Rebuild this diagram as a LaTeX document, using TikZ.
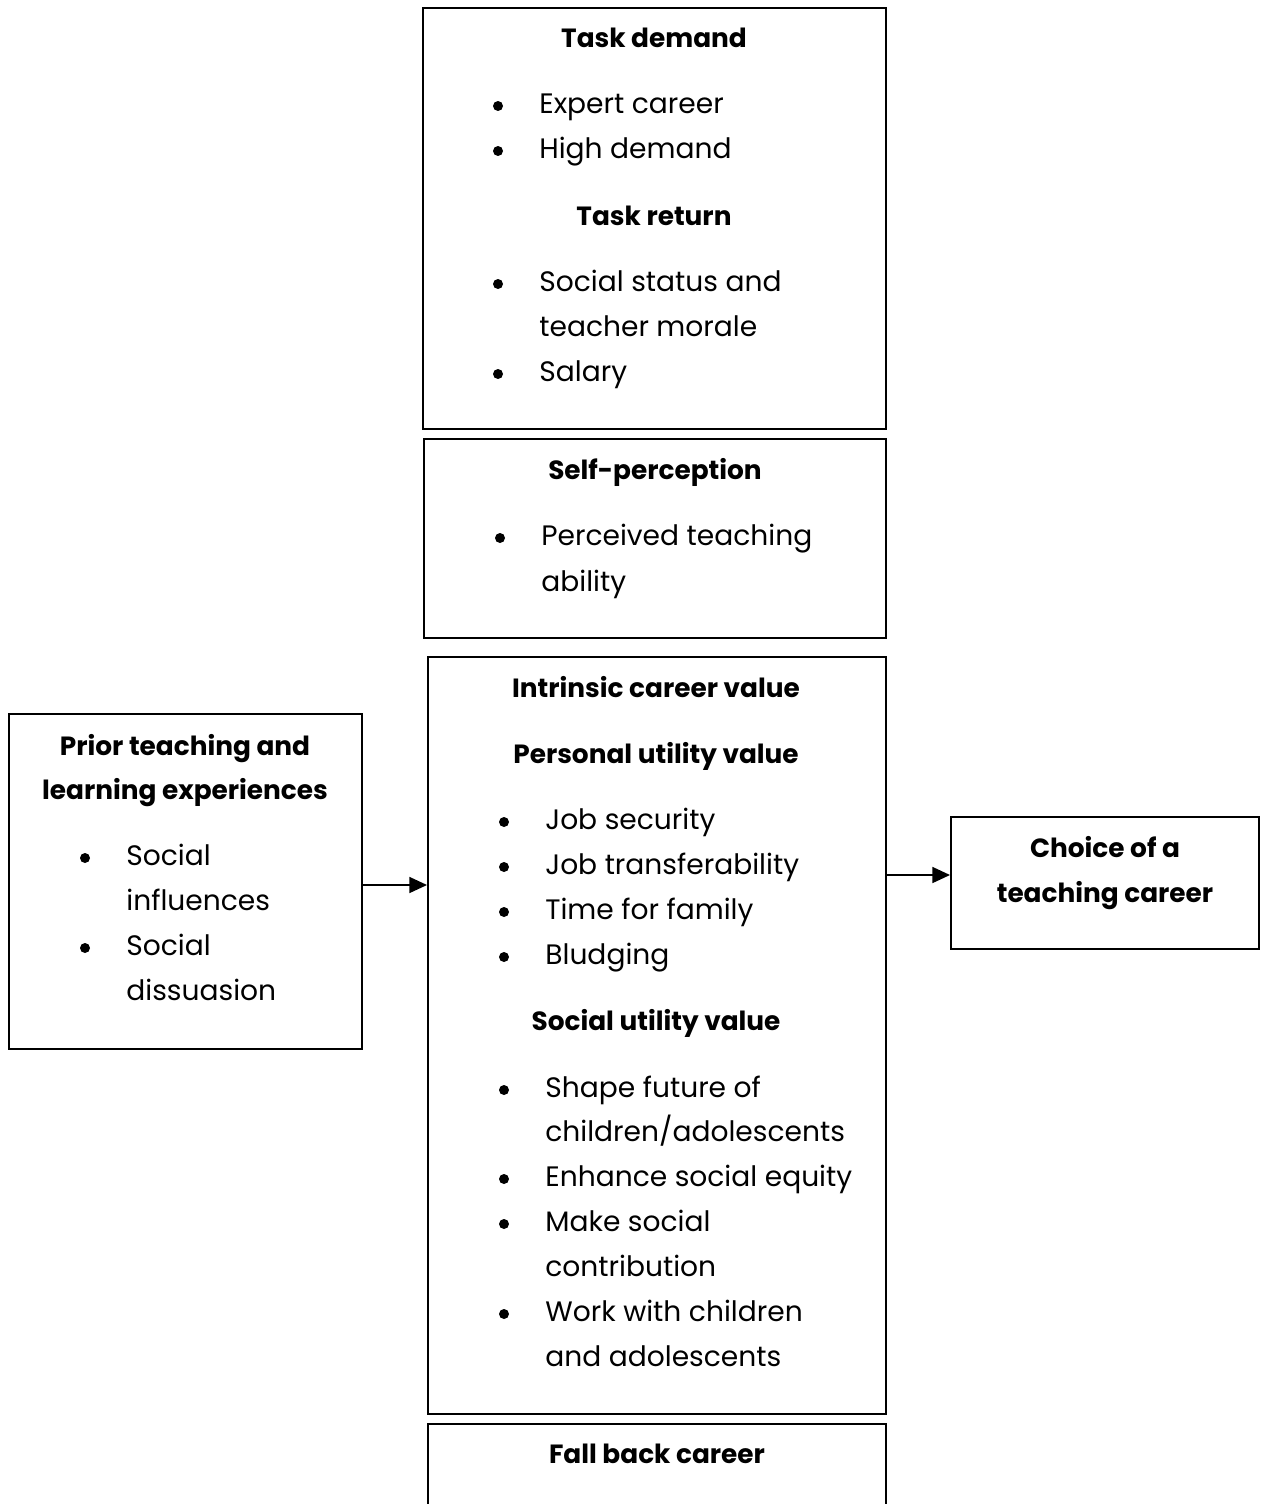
\documentclass[tikz,border=0pt]{standalone}
\usepackage{fontspec}
\setmainfont{Poppins}
\usetikzlibrary{arrows.meta,fit}

\newcommand{\bodyfont}{\fontsize{16}{20}\selectfont}
\newcommand{\headfont}{\fontsize{15}{20}\selectfont\bfseries}

\begin{document}
\begin{tikzpicture}[
    x=0.02cm, y=-0.02cm,
    every node/.style={font=\bodyfont},
    box/.style={draw, line width=1.1pt, inner sep=0pt},
    head/.style={anchor=base, inner sep=0pt, font=\headfont},
    item/.style={anchor=base west, inner sep=0pt},
    dot/.style={circle, fill, minimum size=0.2cm, inner sep=0pt},
    arr/.style={-{Triangle[length=10pt,width=9pt]}, line width=1.1pt},
]
\useasboundingbox (0,0) rectangle (1265,1504);

% ---- boxes ----
\node[box, fit={(423,8) (886,429)}] (demand) {};
\node[box, fit={(424,439) (886,638)}] (selfperc) {};
\node[box, fit={(428,657) (886,1414)}] (intrinsic) {};
\node[box, fit={(428,1424) (886,1540)}] (fallback) {};
\node[box, fit={(9,714) (362,1049)}] (prior) {};
\node[box, fit={(951,817) (1259,949)}] (choice) {};

% ---- headings ----
\foreach \x/\y/\t [count=\i] in {
    654/48/Task demand, 654/225/Task return,
    655/479/Self-perception,
    656/697/Intrinsic career value, 656/763/Personal utility value,
    656/1030/Social utility value,
    657/1463/Fall back career,
    185/755/Prior teaching and, 185/799/learning experiences,
    1105/857/Choice of a, 1105/902/teaching career} {
  \node[head] (h\i) at (\x,\y) {\t};
}

% ---- bullet items (1 = bullet) ----
\foreach \x/\y/\b/\t [count=\i] in {
    539/113/1/Expert career, 539/158/1/High demand,
    539/291/1/Social status and, 539/336/0/teacher morale, 539/381/1/Salary,
    541/545/1/Perceived teaching, 541/591/0/ability,
    545/829/1/Job security, 545/874/1/Job transferability,
    545/919/1/Time for family, 545/964/1/Bludging,
    545/1097/1/Shape future of, 545/1141/0/{children/adolescents},
    545/1186/1/Enhance social equity, 545/1231/1/Make social,
    545/1276/0/contribution, 545/1321/1/Work with children,
    545/1366/0/and adolescents,
    126/865/1/Social, 126/910/0/influences,
    126/955/1/Social, 126/1000/0/dissuasion} {
  \node[item] (t\i) at (\x,\y) {\t};
  \ifnum\b=1
    \node[dot] (d\i) at (\x-41,\y-7) {};
  \fi
}

% ---- arrows ----
\coordinate (a1) at (0,885);
\coordinate (a2) at (0,875);
\draw[arr] (prior.east |- a1) -- (intrinsic.west |- a1);
\draw[arr] (intrinsic.east |- a2) -- (choice.west |- a2);

\end{tikzpicture}
\end{document}
